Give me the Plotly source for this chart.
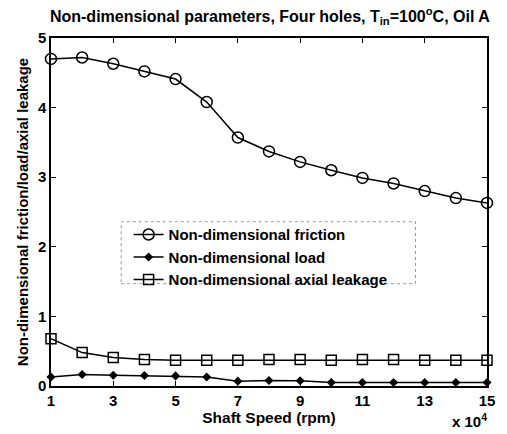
import plotly.graph_objects as go

speed = [1, 2, 3, 4, 5, 6, 7, 8, 9, 10, 11, 12, 13, 14, 15]
friction = [4.70, 4.72, 4.63, 4.52, 4.41, 4.08, 3.57, 3.37, 3.22, 3.10, 2.99, 2.91, 2.80, 2.70, 2.63]
load = [0.13, 0.165, 0.155, 0.15, 0.145, 0.13, 0.07, 0.08, 0.075, 0.05, 0.05, 0.05, 0.05, 0.05, 0.05]
leakage = [0.68, 0.48, 0.41, 0.38, 0.37, 0.37, 0.37, 0.38, 0.38, 0.37, 0.38, 0.38, 0.37, 0.37, 0.37]
xticks = [1, 3, 5, 7, 9, 11, 13, 15]
yticks = [0, 1, 2, 3, 4, 5]

FONT = "Liberation Sans, Arial, sans-serif"
fig = go.Figure()
fig.add_trace(go.Scatter(x=speed, y=friction, mode="lines+markers", name="<b>Non-dimensional friction</b>",
                         line=dict(color="black", width=1.5),
                         marker=dict(symbol="circle-open", size=11, color="black", line=dict(width=1.5)),
                         cliponaxis=False))
fig.add_trace(go.Scatter(x=speed, y=load, mode="lines+markers", name="<b>Non-dimensional load</b>",
                         line=dict(color="black", width=1.5),
                         marker=dict(symbol="diamond", size=7, color="black"),
                         cliponaxis=False))
fig.add_trace(go.Scatter(x=speed, y=leakage, mode="lines+markers", name="<b>Non-dimensional axial leakage</b>",
                         line=dict(color="black", width=1.5),
                         marker=dict(symbol="square-open", size=10, color="black", line=dict(width=1.5)),
                         cliponaxis=False))

axis_common = dict(showgrid=False, zeroline=False, showline=True, linecolor="black", linewidth=1.5,
                   mirror="ticks", ticks="inside", ticklen=5, tickcolor="black",
                   tickfont=dict(family=FONT, size=15, color="black"))
fig.update_xaxes(range=[1, 15], tickvals=xticks, ticktext=[f"<b>{v}</b>" for v in xticks],
                 title=dict(text="<b>Shaft Speed (rpm)</b>", font=dict(family=FONT, size=15.5, color="black"), standoff=2),
                 **axis_common)
fig.update_yaxes(range=[0, 5], tickvals=yticks, ticktext=[f"<b>{v}</b>" for v in yticks],
                 title=dict(text="<b>Non-dimensional friction/load/axial leakage</b>", font=dict(family=FONT, size=15, color="black"), standoff=6),
                 **axis_common)

fig.update_layout(
    width=507, height=434,
    margin=dict(l=51, r=16, t=38, b=47),
    paper_bgcolor="white", plot_bgcolor="white",
    title=dict(text="<b>Non-dimensional parameters, Four holes, T<sub>in</sub>=100<sup>o</sup>C, Oil A</b>",
               x=0.502, xref="paper", xanchor="center", y=0.975, yanchor="top",
               font=dict(family=FONT, size=16, color="black")),
    showlegend=True,
    legend=dict(x=0.178, y=0.482, xanchor="left", yanchor="top", bgcolor="rgba(255,255,255,0)",
                borderwidth=0, font=dict(family=FONT, size=15, color="black"), tracegroupgap=0,
                itemwidth=30),
    shapes=[dict(type="rect", xref="paper", yref="paper", x0=0.161, x1=0.836, y0=0.294, y1=0.472,
                 line=dict(color="#999999", width=1, dash="dot"), fillcolor="rgba(255,255,255,0)")],
    annotations=[dict(text="<b>x 10<sup>4</sup></b>", xref="paper", yref="paper", x=1.005, y=-0.066,
                      xanchor="right", yanchor="top", showarrow=False,
                      font=dict(family=FONT, size=15, color="black"))],
)
fig.write_html("out.html")
